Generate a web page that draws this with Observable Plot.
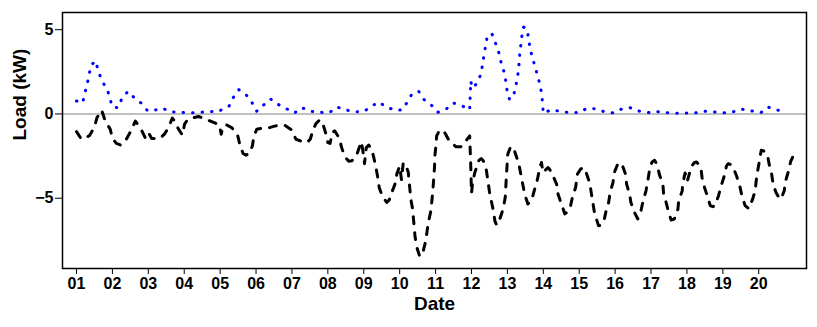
<!DOCTYPE html>
<html>
<head>
<meta charset="utf-8">
<script src="https://cdn.jsdelivr.net/npm/d3@7"></script>
<script src="https://cdn.jsdelivr.net/npm/@observablehq/plot@0.6"></script>
<style>
  body { margin: 0; background: #fff; }
  svg { display: block; }
</style>
</head>
<body>
<div id="chart"></div>
<script>
// Time in days (day of month, fractional) and load values (kW)
const blueDay = [1.00,1.17,1.23,1.30,1.35,1.41,1.53,1.60,1.69,1.82,1.93,1.98,2.15,2.26,2.43,2.61,2.82,2.98,3.17,3.39,3.64,3.90,4.18,4.44,4.71,4.96,5.06,5.25,5.37,5.52,5.74,5.90,6.02,6.20,6.40,6.61,6.85,7.07,7.28,7.51,7.78,8.04,8.25,8.50,8.75,9.00,9.19,9.41,9.63,9.89,10.06,10.21,10.34,10.53,10.68,10.89,11.06,11.30,11.50,11.75,11.95,11.98,12.02,12.15,12.27,12.31,12.35,12.40,12.44,12.57,12.67,12.76,12.82,12.90,12.95,12.99,13.06,13.18,13.24,13.29,13.32,13.34,13.37,13.40,13.45,13.54,13.59,13.63,13.69,13.77,13.84,13.91,13.96,13.98,14.00,14.23,14.47,14.73,15.00,15.21,15.44,15.69,15.96,16.19,16.42,16.65,16.92,17.17,17.41,17.68,17.94,18.22,18.49,18.75,19.01,19.28,19.54,19.80,20.06,20.25,20.50,20.75];
const blueLoad = [0.77,0.65,1.22,1.77,2.35,2.90,3.15,2.60,2.05,1.56,1.05,0.47,0.36,0.89,1.34,0.96,0.61,0.18,0.22,0.34,0.12,0.10,0.06,0.10,0.14,0.14,0.28,0.47,0.99,1.44,1.10,0.63,0.16,0.51,0.89,0.57,0.31,0.06,0.37,0.16,0.10,0.07,0.41,0.24,0.13,0.15,0.41,0.71,0.41,0.21,0.24,0.69,1.18,1.34,0.85,0.51,0.10,0.30,0.65,0.47,0.24,1.95,1.55,1.80,2.40,2.98,3.53,4.10,4.66,4.75,4.20,3.65,3.10,2.54,2.00,1.40,0.85,1.16,1.72,2.29,2.86,3.43,4.00,4.57,5.15,5.05,4.50,3.92,3.37,2.82,2.27,1.70,1.14,0.57,0.04,0.26,0.15,0.08,0.08,0.33,0.31,0.14,0.06,0.30,0.37,0.18,0.08,0.14,0.08,0.04,0.06,0.06,0.16,0.12,0.06,0.12,0.28,0.18,0.08,0.41,0.24,0.12];

const blackDay = [1.00,1.12,1.20,1.37,1.50,1.57,1.70,1.80,1.94,2.00,2.11,2.23,2.40,2.53,2.64,2.80,2.92,2.98,3.03,3.09,3.20,3.33,3.45,3.56,3.67,3.73,3.84,3.95,4.01,4.09,4.27,4.40,4.53,4.78,4.87,4.98,5.03,5.08,5.18,5.32,5.48,5.55,5.64,5.72,5.81,5.90,5.94,6.02,6.15,6.31,6.54,6.80,7.00,7.11,7.24,7.35,7.44,7.51,7.58,7.66,7.77,7.85,7.95,8.00,8.06,8.13,8.19,8.32,8.39,8.49,8.58,8.67,8.81,8.89,8.93,8.97,9.02,9.07,9.14,9.22,9.28,9.34,9.39,9.43,9.51,9.64,9.71,9.78,9.87,9.92,10.00,10.05,10.10,10.17,10.24,10.31,10.36,10.43,10.49,10.55,10.60,10.66,10.73,10.79,10.87,10.92,10.97,10.98,11.01,11.03,11.09,11.14,11.22,11.28,11.38,11.57,11.70,11.83,11.95,11.98,12.00,12.03,12.09,12.14,12.21,12.27,12.33,12.41,12.51,12.61,12.65,12.70,12.79,12.88,12.94,12.97,13.01,13.08,13.16,13.20,13.32,13.48,13.57,13.67,13.76,13.84,13.90,13.95,13.99,14.07,14.13,14.18,14.27,14.37,14.41,14.49,14.60,14.65,14.74,14.81,14.90,14.95,15.04,15.10,15.15,15.27,15.32,15.43,15.54,15.61,15.69,15.75,15.82,15.86,15.94,15.98,16.07,16.13,16.19,16.29,16.32,16.40,16.44,16.54,16.63,16.72,16.77,16.86,16.91,16.97,17.03,17.10,17.17,17.23,17.33,17.35,17.42,17.49,17.56,17.65,17.75,17.77,17.87,17.88,17.95,18.01,18.08,18.13,18.21,18.27,18.39,18.42,18.49,18.58,18.65,18.72,18.78,18.88,18.94,19.04,19.10,19.15,19.22,19.29,19.38,19.47,19.53,19.62,19.72,19.83,19.90,19.93,19.97,20.02,20.07,20.14,20.24,20.29,20.36,20.40,20.48,20.56,20.62,20.71,20.75,20.83,20.89,20.95];
const blackLoad = [-1.05,-1.44,-1.50,-1.26,-0.77,-0.22,0.22,-0.41,-0.91,-1.44,-1.75,-1.85,-1.46,-0.95,-0.42,-0.91,-1.44,-1.50,-1.20,-1.45,-1.45,-1.44,-1.20,-0.80,-0.25,-0.41,-0.90,-1.25,-0.60,-0.35,-0.22,-0.15,-0.25,-0.47,-0.55,-0.67,-1.20,-0.77,-0.65,-0.81,-1.20,-1.83,-2.35,-2.45,-2.35,-1.89,-1.30,-0.91,-0.85,-0.85,-0.71,-0.67,-0.96,-1.50,-1.60,-1.70,-1.65,-1.50,-1.00,-0.60,-0.35,-0.51,-1.20,-1.70,-1.75,-1.10,-1.00,-1.44,-2.05,-2.59,-2.80,-2.78,-2.39,-1.90,-1.65,-2.10,-2.95,-2.00,-1.85,-2.10,-2.59,-3.18,-3.77,-4.36,-4.85,-5.25,-5.10,-4.66,-4.16,-3.57,-3.10,-3.90,-2.90,-3.00,-3.47,-5.05,-5.64,-7.32,-8.00,-8.40,-8.45,-8.10,-7.50,-6.53,-5.74,-4.66,-3.18,-2.49,-1.89,-1.30,-1.05,-0.95,-1.00,-1.20,-1.60,-1.95,-1.95,-1.64,-1.30,-3.10,-4.71,-4.10,-3.50,-3.18,-2.74,-2.65,-2.78,-3.27,-4.75,-5.74,-6.33,-6.60,-6.23,-5.64,-4.95,-3.77,-2.39,-2.00,-1.95,-2.20,-2.98,-4.75,-5.34,-5.15,-4.46,-3.86,-3.18,-2.88,-3.47,-3.30,-3.18,-3.30,-3.67,-4.16,-4.75,-5.25,-5.93,-5.85,-5.64,-4.95,-4.36,-3.57,-3.27,-3.20,-3.21,-3.96,-4.46,-5.93,-6.63,-6.60,-6.33,-5.74,-5.25,-4.66,-4.07,-3.47,-2.98,-2.90,-2.98,-3.57,-4.16,-4.75,-5.25,-5.84,-6.23,-5.74,-5.25,-4.56,-3.96,-3.18,-2.85,-2.75,-3.00,-3.57,-4.16,-4.75,-5.25,-5.84,-6.29,-6.23,-5.64,-5.15,-4.56,-4.16,-3.50,-4.00,-3.45,-3.10,-2.88,-2.85,-3.18,-3.77,-4.36,-4.95,-5.44,-5.50,-5.44,-4.85,-4.36,-3.67,-3.10,-2.95,-3.00,-3.18,-3.67,-4.26,-4.85,-5.44,-5.62,-5.05,-4.56,-3.96,-3.37,-2.78,-2.15,-2.20,-2.39,-2.98,-3.57,-4.16,-4.66,-4.95,-5.05,-4.56,-3.96,-3.37,-2.82,-2.54];

const dateTicks = d3.range(1, 21);
const loadTicks = [-5, 0, 5];

const blue = blueDay.map((d, i) => ({day: d, load: blueLoad[i]}));
const black = blackDay.map((d, i) => ({day: d, load: blackLoad[i]}));

const chart = Plot.plot({
  width: 817,
  height: 327,
  marginLeft: 62,
  marginRight: 11,
  marginTop: 12,
  marginBottom: 59,
  style: {fontFamily: "'Liberation Sans', Arial, Helvetica, sans-serif", background: "#fff", color: "#000"},
  x: {type: "linear", domain: [0.61, 21.33], axis: null},
  y: {domain: [-9.17, 6.02], axis: null},
  marks: [
    Plot.ruleY([0], {stroke: "#c0c0c0", strokeWidth: 2}),
    Plot.line(black, {x: "day", y: "load", stroke: "#000", strokeWidth: 3, strokeDasharray: "7,9", strokeLinecap: "round", strokeLinejoin: "round"}),
    Plot.line(blue, {x: "day", y: "load", stroke: "#0000ff", strokeWidth: 3, strokeDasharray: "0.5,9", strokeLinecap: "round", strokeLinejoin: "round"}),
    Plot.frame({stroke: "#000", strokeWidth: 1.5}),
    Plot.axisX({ticks: dateTicks, tickFormat: d3.format("02d"), tickSize: 6, tickPadding: 3, fontSize: 16, fontWeight: "bold", label: null}),
    Plot.axisY({ticks: loadTicks, tickSize: 7, tickPadding: 2, fontSize: 16, fontWeight: "bold", label: null}),
    Plot.text(["Date"], {frameAnchor: "bottom", dy: 35, lineAnchor: "middle", fontSize: 19, fontWeight: "bold"}),
    Plot.text(["Load (kW)"], {frameAnchor: "left", dx: -43, rotate: -90, lineAnchor: "middle", fontSize: 19, fontWeight: "bold"})
  ]
});
document.getElementById("chart").appendChild(chart);
</script>
</body>
</html>
